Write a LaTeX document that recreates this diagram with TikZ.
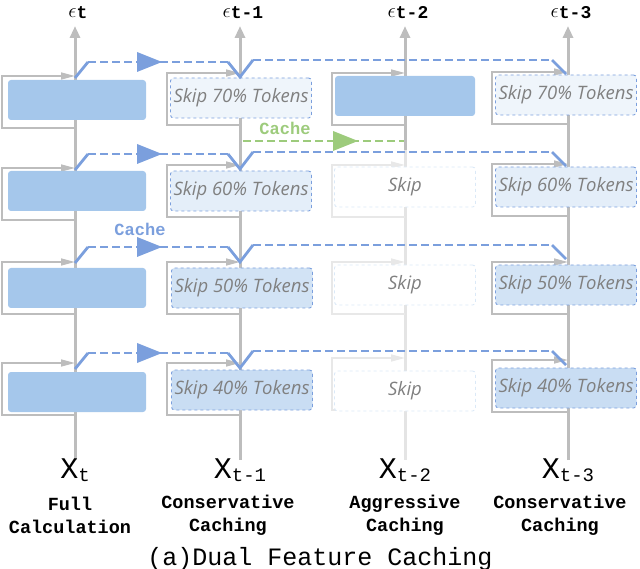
\documentclass[tikz,border=0pt]{standalone}
\usepackage{fontspec}
\setmainfont{DejaVu Sans}
\newfontfamily\mono{Liberation Mono}
\newfontfamily\skf{Open Sans}
\usetikzlibrary{arrows.meta}
\definecolor{blk}{HTML}{A5C7EB}
\definecolor{bdash}{HTML}{7B9FDD}
\definecolor{gr}{HTML}{BDBDBD}
\definecolor{grn}{HTML}{9DCB7C}
\begin{document}
\begin{tikzpicture}[x=1pt,y=-1pt,
 axis/.style={gr,line width=3pt,-{Triangle[length=12pt,width=10pt]}},
 loopl/.style={gr,line width=1.6pt,-{Triangle[length=14pt,width=7pt]}},
 full/.style={fill=blk,rounded corners=3pt,minimum width=138pt,minimum height=40pt,inner sep=0},
 skipb/.style={draw=bdash,dashed,line width=0.9pt,rounded corners=3pt,minimum width=141pt,minimum height=40pt,inner sep=0,font=\skf\itshape\fontsize{18.5}{19}\selectfont,text=gray},
 cch/.style={bdash,line width=2.8pt,dash pattern=on 8pt off 4pt},
 tipb/.style={bdash,line width=2.8pt},
 lab/.style={font=\mono\bfseries\fontsize{18.5}{23}\selectfont,align=center}]
\useasboundingbox (0,0) rectangle (640,569);
% axes
\foreach \x/\n in {75/a,240/b,568/d}{\draw[axis] (\x,460) coordinate (\n0) -- (\x,26) coordinate (\n1);}
\draw[gr!40,line width=3pt] (405,460) -- (405,150);
\draw[axis] (405,150) -- (405,26);
% loops
\foreach \x/\y/\c in {2/76/gr,2/168/gr,2/262/gr,2/363/gr,167/73/gr,167/165/gr,167/262/gr,167/363/gr,332/73/gr,332/165/gr!35,332/262/gr!35,332/358/gr!35,492/72/gr,492/164/gr,492/262/gr,492/360/gr}{
 \pgfmathsetmacro\xa{\x<100?75:(\x<300?240:(\x<400?405:568))}
 \draw[loopl,draw=\c,color=\c] (\xa,\y+52) -- (\x,\y+52) -- (\x,\y) -- (\xa,\y);}
% blocks col1
\foreach \y/\n in {100/f1,191/f2,288/f3,392/f4}{\node[full] (\n) at (77,\y) {};}
\node[full,minimum width=140pt] (g1) at (405,96) {};
% skip boxes
\node[skipb,fill=blk!18] (s21) at (241,98) {Skip 70\% Tokens};
\node[skipb,fill=blk!30] (s22) at (241,191) {Skip 60\% Tokens};
\node[skipb,fill=blk!50] (s23) at (242,288) {Skip 50\% Tokens};
\node[skipb,fill=blk!60] (s24) at (242,390) {Skip 40\% Tokens};
\node[skipb,fill=blk!18] (s41) at (566,95) {Skip 70\% Tokens};
\node[skipb,fill=blk!30] (s42) at (566,187) {Skip 60\% Tokens};
\node[skipb,fill=blk!50] (s43) at (566,285) {Skip 50\% Tokens};
\node[skipb,fill=blk!60] (s44) at (566,388) {Skip 40\% Tokens};
\foreach \y/\n in {187/s32,285/s33,391/s34}{\node[skipb,draw=blk!40,fill=white,minimum width=141pt] (\n) at (405,\y) {Skip};}
% cache lines
\foreach \y in {62,154,247,353}{
 \draw[tipb] (75,\y+16) -- (88,\y);
 \draw[cch] (88,\y) -- (228,\y);
 \fill[bdash] (137,\y-10) -- (162,\y) -- (137,\y+10) -- cycle;
 \draw[tipb] (228,\y) -- (240,\y+15) -- (253,\y-2);
 \draw[cch] (253,\y-2) -- (552,\y-2);
 \draw[tipb] (552,\y-2) -- (566,\y+12);}
\node[font=\mono\bfseries\fontsize{17}{18}\selectfont,text=bdash] (c1) at (140,229) {Cache};
\node[font=\mono\bfseries\fontsize{17}{18}\selectfont,text=grn] (c2) at (285,128) {Cache};
\draw[grn,line width=2.8pt,dash pattern=on 8pt off 4pt] (243,141) -- (404,141);
\fill[grn] (333,131) -- (358,141) -- (333,151) -- cycle;
% labels
\foreach \x/\s in {75/t,240/t-1,405/t-2,568/t-3}{
 \node[font=\bfseries\fontsize{22}{22}\selectfont,inner sep=1pt] at (\x+3,13) {$\epsilon$\raisebox{-1pt}{\mono\fontsize{18}{18}\selectfont\s}};
 \node[font=\mono\fontsize{30}{30}\selectfont] at (\x,470) {X\raisebox{-3pt}{\fontsize{19}{19}\selectfont\s}};}
\node[lab] at (70,515) {Full\\Calculation};
\node[lab] at (228,515) {Conservative\\Caching};
\node[lab] at (405,515) {Aggressive\\Caching};
\node[lab] at (560,515) {Conservative\\Caching};
\node[font=\mono\fontsize{25}{25}\selectfont] at (320,559) {(a)Dual Feature Caching};
\end{tikzpicture}
\end{document}
